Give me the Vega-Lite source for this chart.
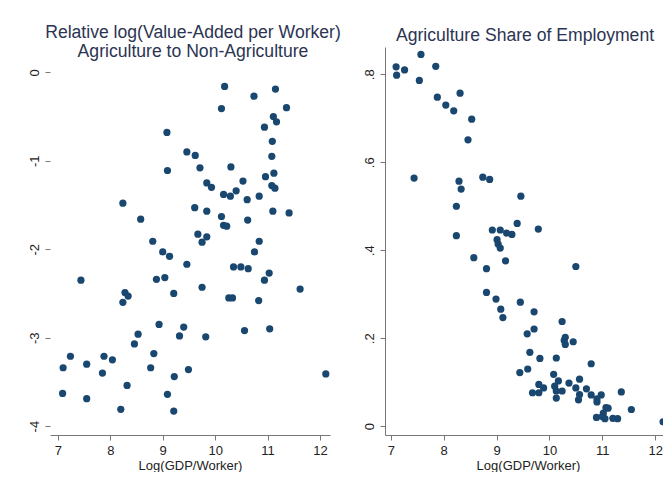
{
  "$schema": "https://vega.github.io/schema/vega-lite/v6.json",
  "background": "white",
  "padding": {"left": 28, "top": 24, "right": 0, "bottom": 0},
  "spacing": 22,
  "config": {
    "font": "Liberation Sans",
    "view": {"stroke": null},
    "title": {"font": "Liberation Sans", "fontSize": 17.6, "fontWeight": "normal", "color": "#2b3452", "lineHeight": 19, "anchor": "middle"},
    "axis": {"grid": false, "domainColor": "#777777", "tickColor": "#777777", "tickSize": 5, "labelFont": "Liberation Sans", "labelFontSize": 13, "labelColor": "#222222", "titleFont": "Liberation Sans", "titleFontSize": 13, "titleFontWeight": "normal", "titleColor": "#222222", "labelPadding": 4}
  },
  "datasets": {
    "rel": [
      {"x":10.18,"y":-0.16},{"x":10.74,"y":-0.27},{"x":11.15,"y":-0.19},{"x":10.12,"y":-0.41},{"x":11.36,"y":-0.40},{"x":11.11,"y":-0.50},{"x":11.17,"y":-0.56},{"x":10.94,"y":-0.62},{"x":11.09,"y":-0.78},{"x":9.08,"y":-0.68},{"x":9.46,"y":-0.90},{"x":9.62,"y":-0.94},{"x":11.08,"y":-0.95},
      {"x":9.09,"y":-1.11},{"x":9.71,"y":-1.08},{"x":10.30,"y":-1.07},{"x":10.96,"y":-1.18},{"x":11.12,"y":-1.14},{"x":9.84,"y":-1.25},{"x":9.93,"y":-1.30},{"x":10.53,"y":-1.23},{"x":11.08,"y":-1.28},{"x":11.14,"y":-1.31},{"x":10.16,"y":-1.38},{"x":10.29,"y":-1.40},{"x":10.40,"y":-1.34},{"x":10.61,"y":-1.44},{"x":10.84,"y":-1.40},{"x":8.24,"y":-1.48},{"x":9.61,"y":-1.53},{"x":9.84,"y":-1.57},{"x":11.10,"y":-1.57},{"x":11.41,"y":-1.59},{"x":10.12,"y":-1.63},{"x":8.58,"y":-1.66},{"x":10.62,"y":-1.67},{"x":10.16,"y":-1.73},{"x":10.22,"y":-1.74},{"x":9.67,"y":-1.83},{"x":9.84,"y":-1.86},{"x":9.75,"y":-1.92},{"x":10.84,"y":-1.91},{"x":8.81,"y":-1.91},{"x":9.00,"y":-2.03},{"x":9.13,"y":-2.08},{"x":10.75,"y":-2.03},{"x":9.46,"y":-2.17},{"x":10.35,"y":-2.20},{"x":10.49,"y":-2.20},{"x":10.63,"y":-2.22},{"x":11.03,"y":-2.27},{"x":10.94,"y":-2.35},{"x":7.44,"y":-2.35},{"x":8.88,"y":-2.34},{"x":9.04,"y":-2.32},{"x":11.62,"y":-2.45},{"x":9.75,"y":-2.43},{"x":8.28,"y":-2.49},{"x":8.34,"y":-2.53},{"x":9.21,"y":-2.50},{"x":10.26,"y":-2.55},{"x":10.33,"y":-2.55},{"x":10.83,"y":-2.58},{"x":8.24,"y":-2.60},
      {"x":8.93,"y":-2.85},{"x":9.40,"y":-2.88},{"x":10.56,"y":-2.92},{"x":11.04,"y":-2.90},{"x":8.53,"y":-2.96},{"x":9.32,"y":-2.98},{"x":9.82,"y":-2.99},{"x":8.46,"y":-3.07},{"x":7.24,"y":-3.21},{"x":7.88,"y":-3.21},{"x":8.83,"y":-3.18},{"x":8.04,"y":-3.25},{"x":7.10,"y":-3.34},{"x":7.55,"y":-3.30},{"x":8.77,"y":-3.34},{"x":7.85,"y":-3.40},{"x":9.49,"y":-3.36},{"x":9.22,"y":-3.44},{"x":12.11,"y":-3.41},{"x":8.32,"y":-3.54},{"x":7.09,"y":-3.63},{"x":9.09,"y":-3.64},{"x":7.55,"y":-3.69},{"x":8.20,"y":-3.81},{"x":9.21,"y":-3.83}
    ],
    "share": [
      {"x":7.57,"y":0.845},{"x":7.10,"y":0.817},{"x":7.26,"y":0.810},{"x":7.11,"y":0.798},{"x":7.85,"y":0.818},{"x":7.54,"y":0.786},{"x":7.88,"y":0.748},{"x":8.31,"y":0.757},{"x":8.04,"y":0.730},{"x":8.19,"y":0.717},{"x":8.53,"y":0.698},{"x":8.46,"y":0.651},
      {"x":7.44,"y":0.564},{"x":8.29,"y":0.557},{"x":8.74,"y":0.566},{"x":8.87,"y":0.561},{"x":8.33,"y":0.539},{"x":9.46,"y":0.523},{"x":8.24,"y":0.500},{"x":9.39,"y":0.461},{"x":9.79,"y":0.448},{"x":8.92,"y":0.446},{"x":9.07,"y":0.446},{"x":9.19,"y":0.439},{"x":9.29,"y":0.436},{"x":8.24,"y":0.433},{"x":9.01,"y":0.424},{"x":9.03,"y":0.414},{"x":9.07,"y":0.405},{"x":8.57,"y":0.383},{"x":9.17,"y":0.376},{"x":8.81,"y":0.358},{"x":10.50,"y":0.363},{"x":8.81,"y":0.304},{"x":8.99,"y":0.289},{"x":9.45,"y":0.282},{"x":9.08,"y":0.266},{"x":9.71,"y":0.260},{"x":9.12,"y":0.247},{"x":10.24,"y":0.238},
      {"x":9.71,"y":0.221},{"x":9.58,"y":0.210},{"x":10.30,"y":0.202},{"x":10.28,"y":0.195},{"x":10.45,"y":0.192},{"x":10.30,"y":0.186},{"x":9.63,"y":0.168},{"x":9.82,"y":0.154},{"x":10.13,"y":0.155},{"x":10.79,"y":0.142},{"x":9.59,"y":0.130},{"x":9.44,"y":0.122},{"x":10.08,"y":0.118},{"x":10.57,"y":0.107},{"x":10.17,"y":0.103},{"x":10.37,"y":0.098},{"x":9.80,"y":0.095},{"x":10.10,"y":0.091},{"x":9.89,"y":0.087},{"x":10.50,"y":0.087},{"x":10.70,"y":0.085},{"x":9.68,"y":0.076},{"x":9.80,"y":0.076},{"x":10.24,"y":0.080},{"x":10.13,"y":0.080},{"x":11.36,"y":0.078},{"x":10.57,"y":0.072},{"x":10.79,"y":0.071},{"x":10.98,"y":0.071},{"x":10.13,"y":0.064},{"x":10.55,"y":0.060},{"x":10.90,"y":0.062},{"x":10.90,"y":0.055},{"x":11.07,"y":0.042},{"x":11.11,"y":0.041},{"x":11.55,"y":0.038},{"x":11.02,"y":0.030},{"x":10.89,"y":0.020},{"x":11.00,"y":0.022},{"x":11.05,"y":0.017},{"x":11.20,"y":0.018},{"x":11.29,"y":0.017},{"x":12.15,"y":0.010}
    ]
  },
  "hconcat": [
    {
      "width": 280,
      "height": 388,
      "title": {"text": ["Relative log(Value-Added per Worker)", "Agriculture to Non-Agriculture"], "offset": -14, "dx": 3},
      "layer": [
        {
          "mark": {"type": "rule", "color": "#777777", "strokeWidth": 1},
          "encoding": {
            "x": {"datum": 6.85, "type": "quantitative"},
            "y": {"datum": -4.1, "type": "quantitative"},
            "y2": {"datum": 0.06}
          }
        },
        {
          "data": {"name": "rel"},
          "mark": {"type": "circle", "size": 52, "opacity": 1, "color": "#1a476f"},
          "encoding": {
            "x": {"field": "x", "type": "quantitative", "title": "Log(GDP/Worker)", "scale": {"domain": [6.85, 12.19], "nice": false, "zero": false}, "axis": {"values": [7, 8, 9, 10, 11, 12], "titlePadding": 2}},
            "y": {"field": "y", "type": "quantitative", "title": null, "scale": {"domain": [-4.1, 0.286], "nice": false, "zero": false}, "axis": {"values": [-4, -3, -2, -1, 0], "domain": false, "labelAngle": -90, "labelExpr": "toString(datum.value)"}}
          }
        }
      ]
    },
    {
      "width": 286,
      "height": 388,
      "title": {"text": "Agriculture Share of Employment", "offset": 2, "dx": -3},
      "data": {"name": "share"},
      "mark": {"type": "circle", "size": 52, "opacity": 1, "color": "#1a476f"},
      "encoding": {
        "x": {"field": "x", "type": "quantitative", "title": "Log(GDP/Worker)", "scale": {"domain": [6.89, 12.3], "nice": false, "zero": false}, "axis": {"values": [7, 8, 9, 10, 11, 12], "titlePadding": 2}},
        "y": {"field": "y", "type": "quantitative", "title": null, "scale": {"domain": [-0.02, 0.862], "nice": false, "zero": false}, "axis": {"values": [0, 0.2, 0.4, 0.6, 0.8], "labelAngle": -90, "labelExpr": "datum.value == 0 ? '0' : substring(format(datum.value, '.1f'), 1)"}}
      }
    }
  ]
}
